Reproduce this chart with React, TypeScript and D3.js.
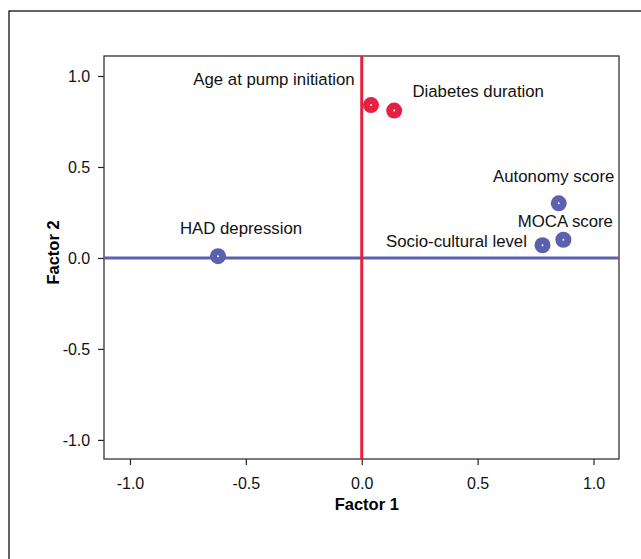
import React, { useRef, useEffect } from 'react';
import * as d3 from 'd3';

// loadings
const variables = ['Age at pump initiation', 'Diabetes duration', 'HAD depression', 'Autonomy score', 'MOCA score', 'Socio-cultural level'];
const factor1 = [0.04, 0.14, -0.62, 0.85, 0.87, 0.78];
const factor2 = [0.84, 0.81, 0.01, 0.30, 0.10, 0.07];
const groups = ['red', 'red', 'blue', 'blue', 'blue', 'blue'];
const tickValues = [-1.0, -0.5, 0.0, 0.5, 1.0];

// label placement relative to the point (px)
const labelDx = [-97, 84, 23, -5, 2, -86];
const labelDy = [-20, -14, -22, -21, -13, 2];

const RED = '#e8203f';
const BLUE = '#5b61ae';

const fmt = (d: number) => d3.format('.1f')(d).replace('−', '-');

const App = () => {
  const ref = useRef<SVGSVGElement | null>(null);

  useEffect(() => {
    const svg = d3.select(ref.current);
    svg.selectAll('*').remove();

    const font = 'Arial, "Liberation Sans", sans-serif';
    const left = 104, right = 619, top = 56, bottom = 459;

    // outer frame
    svg.append('rect')
      .attr('x', 9).attr('y', 11)
      .attr('width', 640).attr('height', 560)
      .attr('fill', 'none').attr('stroke', '#111').attr('stroke-width', 1.3);

    const x = d3.scaleLinear().domain([-1.112, 1.11]).range([left, right]);
    const y = d3.scaleLinear().domain([-1.105, 1.11]).range([bottom, top]);

    const g = svg.append('g');

    // axes
    const xAxis = g.append('g')
      .attr('transform', `translate(0,${bottom})`)
      .call(d3.axisBottom(x).tickValues(tickValues).tickFormat(fmt as any).tickSize(6).tickSizeOuter(0));
    const yAxis = g.append('g')
      .attr('transform', `translate(${left},0)`)
      .call(d3.axisLeft(y).tickValues(tickValues).tickFormat(fmt as any).tickSize(6).tickSizeOuter(0));

    [xAxis, yAxis].forEach(a => {
      a.select('.domain').remove();
      a.selectAll('line').attr('stroke', '#222').attr('stroke-width', 1.2);
      a.selectAll('text')
        .attr('font-family', font).attr('font-size', 16).attr('fill', '#111');
    });
    xAxis.selectAll('text').attr('dy', '1.3em');
    yAxis.selectAll('text').attr('dx', '-0.3em');

    // plot frame
    g.append('rect')
      .attr('x', left).attr('y', top)
      .attr('width', right - left).attr('height', bottom - top)
      .attr('fill', 'none').attr('stroke', '#333').attr('stroke-width', 1.3);

    // reference lines
    g.append('line')
      .attr('x1', left).attr('x2', right)
      .attr('y1', y(0)).attr('y2', y(0))
      .attr('stroke', BLUE).attr('stroke-width', 3);
    g.append('line')
      .attr('x1', x(0)).attr('x2', x(0))
      .attr('y1', top).attr('y2', bottom)
      .attr('stroke', RED).attr('stroke-width', 3);

    // axis titles
    svg.append('text')
      .attr('x', x(0) + 5).attr('y', 510)
      .attr('text-anchor', 'middle')
      .attr('font-family', font).attr('font-size', 16.5).attr('font-weight', 'bold')
      .text('Factor 1');
    svg.append('text')
      .attr('transform', `translate(59,${(top + bottom) / 2 - 5}) rotate(-90)`)
      .attr('text-anchor', 'middle')
      .attr('font-family', font).attr('font-size', 16.5).attr('font-weight', 'bold')
      .text('Factor 2');

    const data = variables.map((v, i) => ({ name: v, f1: factor1[i], f2: factor2[i], group: groups[i], i }));

    // points
    g.selectAll('.pt')
      .data(data)
      .enter()
      .append('circle')
      .attr('class', 'pt')
      .attr('cx', d => x(d.f1))
      .attr('cy', d => y(d.f2))
      .attr('r', 8)
      .attr('fill', d => d.group === 'red' ? RED : BLUE);
    g.selectAll('.dot')
      .data(data)
      .enter()
      .append('circle')
      .attr('class', 'dot')
      .attr('cx', d => x(d.f1))
      .attr('cy', d => y(d.f2))
      .attr('r', 1)
      .attr('fill', '#fff');

    // labels
    g.selectAll('.lbl')
      .data(data)
      .enter()
      .append('text')
      .attr('class', 'lbl')
      .attr('x', d => x(d.f1) + labelDx[d.i])
      .attr('y', d => y(d.f2) + labelDy[d.i])
      .attr('text-anchor', 'middle')
      .attr('font-family', font).attr('font-size', 16.8).attr('fill', '#111')
      .text(d => d.name);
  }, []);

  return (
    <svg ref={ref} width={641} height={559} style={{ position: 'absolute', left: 0, top: 0, background: '#fff' }} />
  );
};

export default App;
